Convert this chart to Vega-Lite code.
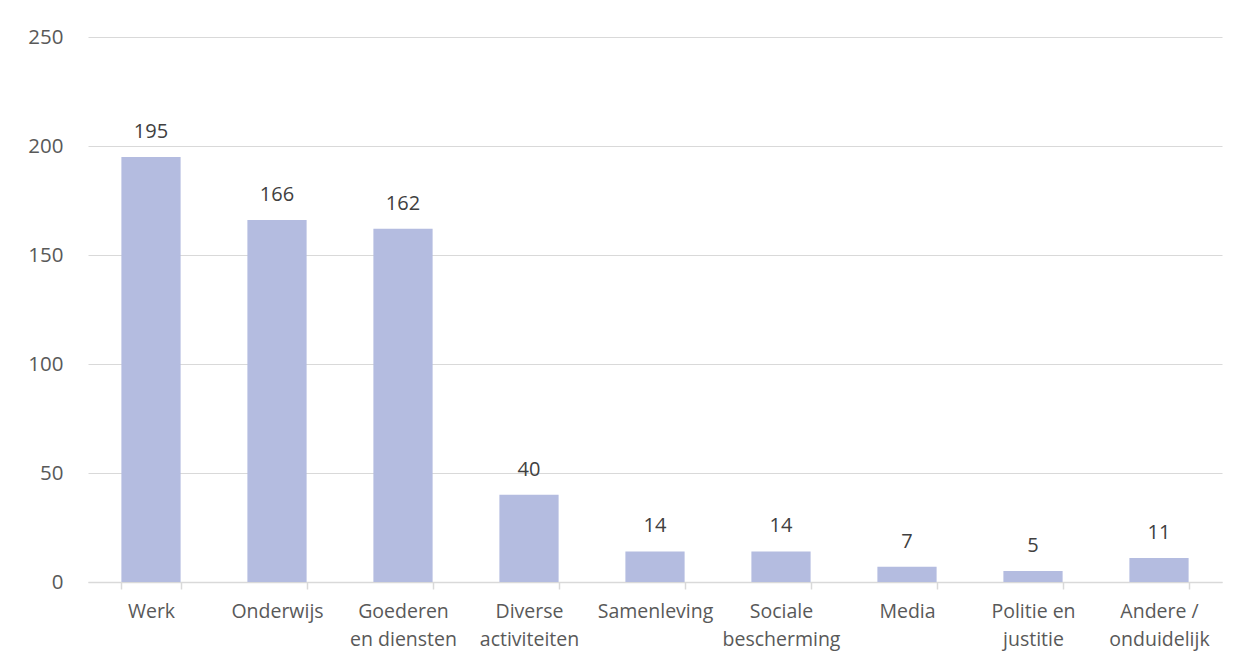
{
  "$schema": "https://vega.github.io/schema/vega-lite/v6.json",
  "autosize": {"type": "none"},
  "width": 1134,
  "height": 545,
  "padding": {"left": 88, "top": 37, "right": 30, "bottom": 89},
  "background": "white",
  "data": {"values": [
    {"cat": "Werk", "n": 195},
    {"cat": "Onderwijs", "n": 166},
    {"cat": "Goederen|en diensten", "n": 162},
    {"cat": "Diverse|activiteiten", "n": 40},
    {"cat": "Samenleving", "n": 14},
    {"cat": "Sociale|bescherming", "n": 14},
    {"cat": "Media", "n": 7},
    {"cat": "Politie en|justitie", "n": 5},
    {"cat": "Andere /|onduidelijk", "n": 11}
  ]},
  "config": {
    "view": {"stroke": null},
    "font": "Open Sans"
  },
  "encoding": {
    "x": {
      "field": "cat", "type": "nominal", "sort": null,
      "scale": {"paddingInner": 0.53, "paddingOuter": 0.265},
      "axis": {
        "title": null, "labelAngle": 0, "labelFontSize": 19.5, "labelColor": "#595959",
        "labelExpr": "split(datum.label, '|')", "labelLineHeight": 28,
        "labelPadding": 13, "domainColor": "#d9d9d9", "domainWidth": 1.5,
        "tickColor": "#d9d9d9", "tickSize": 7, "tickWidth": 1.5, "tickBand": "extent",
        "grid": false, "labelFont": "Open Sans"
      }
    },
    "y": {
      "field": "n", "type": "quantitative",
      "scale": {"domain": [0, 250]},
      "axis": {
        "title": null, "values": [0, 50, 100, 150, 200, 250], "domain": false, "ticks": false,
        "labelFontSize": 20.5, "labelColor": "#595959", "labelPadding": 25,
        "gridColor": "#d9d9d9", "gridWidth": 1.2, "labelFont": "Open Sans"
      }
    }
  },
  "layer": [
    {"mark": {"type": "bar", "color": "#B4BCE0"}},
    {"mark": {"type": "text", "dy": -19, "baseline": "alphabetic", "fontSize": 20, "color": "#404040", "font": "Open Sans"},
     "encoding": {"text": {"field": "n", "type": "quantitative"}}}
  ]
}
